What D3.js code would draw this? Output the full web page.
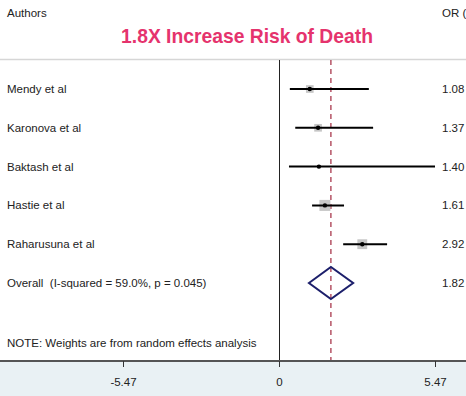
<!DOCTYPE html>
<html>
<head>
<meta charset="utf-8">
<script src="https://cdn.jsdelivr.net/npm/d3@7"></script>
<style>
  body { margin: 0; background: #fff; }
  svg { display: block; font-family: "Liberation Sans", Arial, sans-serif; }
  text { white-space: pre; }
</style>
</head>
<body>
<svg id="chart" width="466" height="396"></svg>
<script>
// study data
var authors = ["Mendy et al", "Karonova et al", "Baktash et al", "Hastie et al", "Raharusuna et al"];
var or_values = [1.08, 1.37, 1.40, 1.61, 2.92];
var ci_low = [0.38, 0.57, 0.35, 1.16, 2.25];
var ci_high = [3.15, 3.30, 5.47, 2.28, 3.79];
var weights = [17, 17, 3, 35, 28];

var overall_label = "Overall  (I-squared = 59.0%, p = 0.045)";
var overall = [1.82, 1.05, 2.60]; // or, low, high

var tick_values = [-5.47, 0, 5.47];

var W = 466, H = 396;
var fs = 11.5;
var svg = d3.select("#chart");

var x = d3.scaleLinear().domain([-5.47, 5.47]).range([123, 435]);
var rows = authors.concat([overall_label]);
var y = d3.scalePoint().domain(rows).range([89, 283]);
var boxSize = d3.scaleSqrt().domain([0, 35]).range([0, 11]);

// bottom band
svg.append("rect")
  .attr("x", 0).attr("y", 361).attr("width", W).attr("height", H - 361)
  .attr("fill", "#e9f1f4");

// header
svg.append("text").attr("x", 7).attr("y", 17)
  .attr("font-size", fs).attr("fill", "#222").text("Authors");
svg.append("text").attr("x", 442).attr("y", 17)
  .attr("font-size", fs).attr("fill", "#222").text("OR (95% CI)");
svg.append("text").attr("x", 247).attr("y", 43)
  .attr("text-anchor", "middle").attr("font-size", 19.3).attr("font-weight", "bold")
  .attr("fill", "#e5336d").text("1.8X Increase Risk of Death");
svg.append("line")
  .attr("x1", 0).attr("x2", W).attr("y1", 59.5).attr("y2", 59.5)
  .attr("stroke", "#d6d6d6").attr("stroke-width", 1.5);

// zero line and overall line
svg.append("line")
  .attr("x1", x(0) + 0.5).attr("x2", x(0) + 0.5).attr("y1", 60).attr("y2", 361)
  .attr("stroke", "#222").attr("stroke-width", 1);
svg.append("line")
  .attr("x1", x(overall[0])).attr("x2", x(overall[0])).attr("y1", 60).attr("y2", 361)
  .attr("stroke", "#a3293f").attr("stroke-width", 1.2)
  .attr("stroke-dasharray", "5,4");

// studies
var g = svg.append("g");
authors.forEach(function(a, i) {
  var cy = y(a);
  var s = boxSize(weights[i]);
  g.append("rect")
    .attr("x", x(or_values[i]) - s / 2).attr("y", cy - s / 2)
    .attr("width", s).attr("height", s)
    .attr("fill", "#c6c6c6");
  g.append("line")
    .attr("x1", x(ci_low[i])).attr("x2", x(ci_high[i]))
    .attr("y1", cy).attr("y2", cy)
    .attr("stroke", "#000").attr("stroke-width", 2);
  g.append("circle")
    .attr("cx", x(or_values[i])).attr("cy", cy).attr("r", 2.2)
    .attr("fill", "#000");
  g.append("text").attr("x", 7).attr("y", cy + 4)
    .attr("font-size", fs).attr("fill", "#222").text(a);
  g.append("text").attr("x", 442).attr("y", cy + 4)
    .attr("font-size", fs).attr("fill", "#222").text(d3.format(".2f")(or_values[i]));
});

// overall diamond
var oy = y(overall_label);
svg.append("path")
  .attr("d", "M" + x(overall[1]) + "," + oy +
             "L" + x(overall[0]) + "," + (oy - 16) +
             "L" + x(overall[2]) + "," + oy +
             "L" + x(overall[0]) + "," + (oy + 16) + "Z")
  .attr("fill", "none").attr("stroke", "#1c1f6b").attr("stroke-width", 2);
svg.append("text").attr("x", 7).attr("y", oy + 4)
  .attr("font-size", fs).attr("fill", "#222").text(overall_label);
svg.append("text").attr("x", 442).attr("y", oy + 4)
  .attr("font-size", fs).attr("fill", "#222").text(d3.format(".2f")(overall[0]));

svg.append("text").attr("x", 7).attr("y", 347)
  .attr("font-size", fs).attr("fill", "#222")
  .text("NOTE: Weights are from random effects analysis");

// axis
svg.append("line")
  .attr("x1", 0).attr("x2", W).attr("y1", 361).attr("y2", 361)
  .attr("stroke", "#555").attr("stroke-width", 2);
var axis = d3.axisBottom(x)
  .tickValues(tick_values)
  .tickSize(6)
  .tickFormat(function(d) { return d === 0 ? "0" : d.toFixed(2); });
var ag = svg.append("g").attr("transform", "translate(0,361)").call(axis);
ag.select(".domain").remove();
ag.selectAll(".tick line").attr("stroke", "#333");
ag.selectAll(".tick text")
  .attr("y", 17).attr("font-size", fs).attr("fill", "#222")
  .attr("font-family", "'Liberation Sans', Arial, sans-serif");
</script>
</body>
</html>
